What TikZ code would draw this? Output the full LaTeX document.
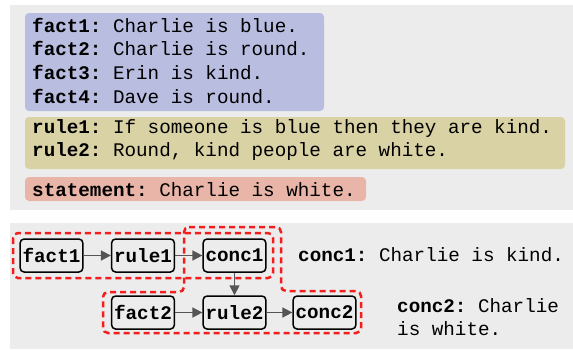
\documentclass[tikz,border=0pt]{standalone}
\usepackage{fontspec}
\setmonofont{Liberation Mono}
\usepackage{xcolor}
\usetikzlibrary{arrows.meta}

\definecolor{panelgray}{HTML}{ECECEC}
\definecolor{factblue}{HTML}{B9BDE0}
\definecolor{ruleolive}{HTML}{D9D2A4}
\definecolor{stmtpink}{HTML}{E9B5A9}
\definecolor{arrowgray}{HTML}{555555}
\definecolor{proofred}{HTML}{F21D1D}

\tikzset{
  txt/.style={anchor=base west, inner sep=0pt, font=\ttfamily\fontsize{19.25}{23.7}\selectfont},
  chainbox/.style={draw, line width=1.5pt, rounded corners=4pt, inner xsep=2.5pt, inner ysep=0pt,
    minimum height=33pt, font=\ttfamily\bfseries\fontsize{19.25}{23.7}\selectfont},
  chainarrow/.style={draw=arrowgray, line width=1.7pt, -{Triangle[length=10pt,width=10pt]}},
  proofregion/.style={draw=proofred, line width=2.5pt, dash pattern=on 6pt off 4pt, rounded corners=5pt},
}

\begin{document}
\begin{tikzpicture}[x=1pt,y=-1pt]
    \useasboundingbox (0,0) rectangle (573,349);
    \fill [panelgray] (10,5) rectangle (573,210);
    \fill [panelgray] (10,223) rectangle (573,349);
    \fill [factblue, rounded corners=4pt] (25,13) rectangle (324,111);
    \fill [ruleolive, rounded corners=4pt] (25,117) rectangle (565,169);
    \fill [stmtpink, rounded corners=4pt] (25,177) rectangle (366,201);
    \node [txt] (f1) at (32,32.0) {\textbf{fact1:} Charlie is blue.};
    \node [txt] (f2) at (32,55.7) {\textbf{fact2:} Charlie is round.};
    \node [txt] (f3) at (32,79.4) {\textbf{fact3:} Erin is kind.};
    \node [txt] (f4) at (32,103.1) {\textbf{fact4:} Dave is round.};
    \node [txt] (r1) at (32,133.0) {\textbf{rule1:} If someone is blue then they are kind.};
    \node [txt] (r2) at (32,156.7) {\textbf{rule2:} Round, kind people are white.};
    \node [txt] (st) at (32,196.0) {\textbf{statement:} Charlie is white.};
    % proof chains
    \node [chainbox] (fact1) at (51.5,255.5) {fact1};
    \node [chainbox] (rule1) at (143.0,255.5) {rule1};
    \node [chainbox] (conc1) at (234.5,255.5) {conc1};
    \node [chainbox] (fact2) at (143.0,312.5) {fact2};
    \node [chainbox] (rule2) at (234.5,312.5) {rule2};
    \node [chainbox] (conc2) at (324.5,312.5) {conc2};
    \draw [chainarrow] (fact1) -- (rule1);
    \draw [chainarrow] (rule1) -- (conc1);
    \draw [chainarrow] (conc1) -- (rule2);
    \draw [chainarrow] (fact2) -- (rule2);
    \draw [chainarrow] (rule2) -- (conc2);
    \draw [proofregion] (13,233) rectangle (273,278);
    \draw [proofregion] (184,227) -- (281,227) -- (281,291) -- (361,291) -- (361,333)
      -- (103,333) -- (103,292) -- (184,292) -- cycle;
    \node [txt] (c1) at (298,261) {\textbf{conc1:} Charlie is kind.};
    \node [txt] (c2) at (397,312) {\textbf{conc2:} Charlie};
    \node [txt] (c2b) at (397,335) {is white.};
  \end{tikzpicture}
\end{document}
